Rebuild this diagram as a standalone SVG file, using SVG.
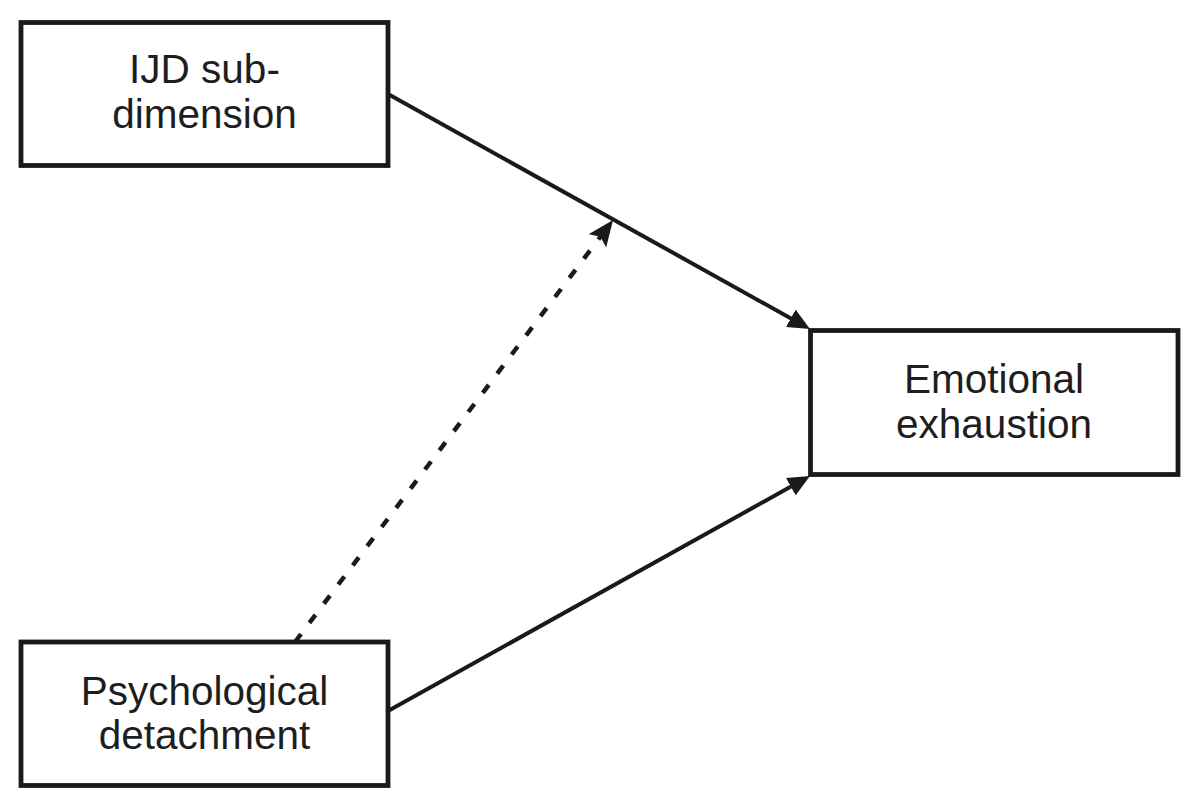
<svg xmlns="http://www.w3.org/2000/svg" width="1200" height="809" viewBox="0 0 1200 809">
<style>
.box{fill:#fff;stroke:#1a1a1a;stroke-width:4.8}
.lbl{font-family:"Liberation Sans",Arial,sans-serif;font-size:40.5px;fill:#1e1e1e;text-anchor:middle}
.edge{fill:none;stroke:#1a1a1a;stroke-width:4}
.dash{stroke-width:4.5;stroke-dasharray:10 14}
</style>
<defs>
<marker id="ah" viewBox="0 0 22 20" refX="10" refY="10" markerWidth="22" markerHeight="20" markerUnits="userSpaceOnUse" orient="auto">
<path d="M0,0 L22,10 L0,20 z" fill="#1a1a1a"/>
</marker>
<marker id="ahd" viewBox="0 0 26 22" refX="12" refY="11" markerWidth="26" markerHeight="22" markerUnits="userSpaceOnUse" orient="auto">
<path d="M0,0 L26,11 L0,22 L5,11 z" fill="#1a1a1a"/>
</marker>
</defs>
<rect width="1200" height="809" fill="#fff"/>
<g id="connectors">
<line class="edge" x1="388" y1="94" x2="799.5" y2="323.2" marker-end="url(#ah)"/>
<line class="edge" x1="388" y1="711" x2="799.5" y2="481.8" marker-end="url(#ah)"/>
<line class="edge dash" x1="295" y1="642" x2="604.6" y2="231.2" marker-end="url(#ahd)"/>
</g>
<g id="ijd">
<rect class="box" x="21" y="22.5" width="367" height="143"/>
<text class="lbl" x="204.5" y="83">IJD sub-</text>
<text class="lbl" x="204.5" y="128">dimension</text>
</g>
<g id="detachment">
<rect class="box" x="21" y="642" width="367" height="143.5"/>
<text class="lbl" x="204.5" y="705">Psychological</text>
<text class="lbl" x="204.5" y="749">detachment</text>
</g>
<g id="exhaustion">
<rect class="box" x="810.5" y="330.5" width="367.5" height="144"/>
<text class="lbl" x="994" y="393">Emotional</text>
<text class="lbl" x="994" y="438">exhaustion</text>
</g>
</svg>
